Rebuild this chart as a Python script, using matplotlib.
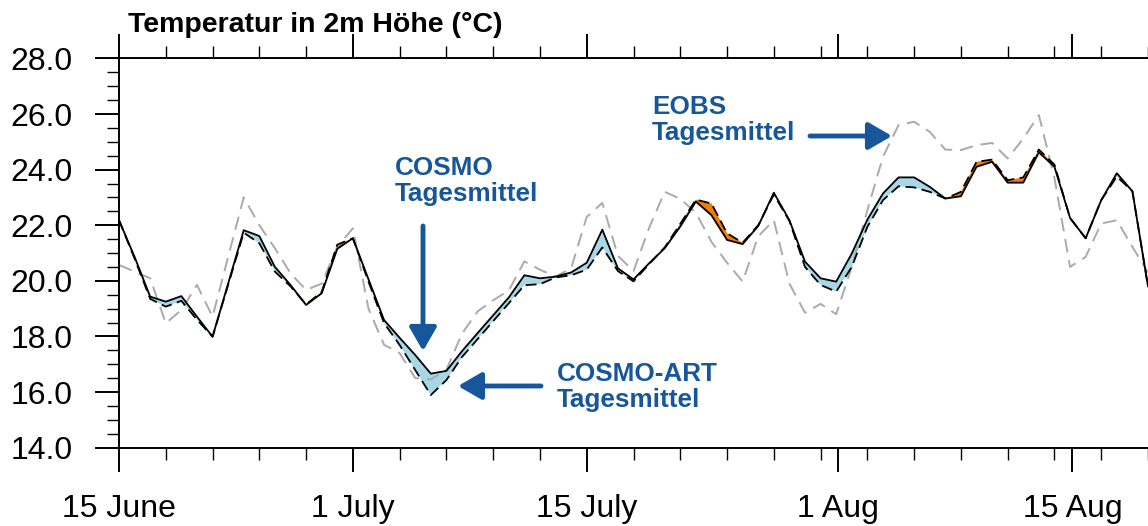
import matplotlib
matplotlib.use("Agg")
import matplotlib.pyplot as plt
import numpy as np

# days since 15 June
days = list(range(67))

cosmo = [22.18, 20.86, 19.43, 19.25, 19.45, 18.71, 17.99, 19.90, 21.82, 21.61,
         20.50, 19.85, 19.13, 19.55, 21.15, 21.53, 20.06, 18.59, 17.95, 17.33,
         16.66, 16.76, 17.47, 18.12, 18.76, 19.40, 20.20, 20.09, 20.15, 20.30,
         20.65, 21.84, 20.45, 20.05, 20.63, 21.17, 21.95, 22.85, 22.36, 21.47,
         21.32, 21.97, 23.17, 22.18, 20.69, 20.09, 19.97, 20.98, 22.20, 23.14,
         23.72, 23.72, 23.38, 22.96, 23.04, 24.10, 24.28, 23.53, 23.53, 24.62,
         24.10, 22.26, 21.53, 22.90, 23.87, 23.22, 19.80]

cosmo_art = [22.18, 20.80, 19.35, 19.07, 19.28, 18.60, 17.99, 19.85, 21.73, 21.35,
             20.33, 19.80, 19.15, 19.60, 21.30, 21.53, 19.97, 18.48, 17.69, 16.79,
             15.89, 16.43, 17.26, 17.90, 18.55, 19.19, 19.84, 19.88, 20.12, 20.20,
             20.40, 21.20, 20.35, 19.98, 20.60, 21.20, 22.05, 22.92, 22.78, 21.71,
             21.37, 22.00, 23.10, 22.15, 20.50, 19.85, 19.61, 20.50, 21.94, 22.90,
             23.40, 23.36, 23.20, 22.96, 23.20, 24.28, 24.36, 23.62, 23.72, 24.72,
             24.18, 22.26, 21.53, 22.90, 23.75, 23.22, 19.80]

eobs = [20.57, 20.33, 20.09, 18.47, 18.95, 19.85, 18.71, 20.86, 23.00, 22.00,
        21.17, 20.27, 19.67, 19.90, 21.22, 21.89, 19.00, 17.70, 17.40, 16.50,
        16.45, 16.80, 18.10, 18.90, 19.30, 19.65, 20.70, 20.40, 20.15, 20.45,
        22.30, 22.80, 20.90, 20.35, 21.90, 23.20, 22.95, 22.45, 21.40, 20.65,
        19.97, 21.60, 22.18, 19.90, 18.85, 19.17, 18.80, 20.50, 22.54, 24.46,
        25.60, 25.72, 25.36, 24.72, 24.70, 24.88, 24.96, 24.40, 25.12, 25.96,
        23.70, 20.50, 20.86, 22.06, 22.18, 21.22, 20.30]

xtick_pos = [0, 15, 30, 46.1, 61.15]
xtick_labels = ["15 June", "1 July", "15 July", "1 Aug", "15 Aug"]
yticks = [14.0, 16.0, 18.0, 20.0, 22.0, 24.0, 26.0, 28.0]

title = "Temperatur in 2m Höhe (°C)"
blue = "#16569a"

plt.rcParams['font.family'] = ['Liberation Sans', 'DejaVu Sans']

W, H = 1148, 526
fig = plt.figure(figsize=(W / 100, H / 100), dpi=100)
left_px, top_px, bot_px = 119, 58.4, 447.6
ax = fig.add_axes([left_px / W, 1 - bot_px / H, (W - left_px) / W, (bot_px - top_px) / H])

x = np.array(days, dtype=float)
c = np.array(cosmo)
a = np.array(cosmo_art)
e = np.array(eobs)

ax.fill_between(x, c, a, where=c >= a, interpolate=True, color="#a8d8e8", lw=0, zorder=1)
ax.fill_between(x, c, a, where=a > c, interpolate=True, color="#f07a0a", lw=0, zorder=1)
ax.plot(x, e, color="#aaaaaa", lw=1.4, dashes=(7, 4), zorder=2)
ax.plot(x, a, color="black", lw=1.3, dashes=(6, 3), zorder=3)
ax.plot(x, c, color="black", lw=1.3, zorder=4)

px_per_day = 15.67
ax.set_xlim(0, (W - left_px) / px_per_day)
ax.set_ylim(14, 28)

ax.set_xticks(xtick_pos)
ax.set_xticklabels(xtick_labels)
ax.set_xticks(np.arange(0, 67, 3), minor=True)
ax.set_yticks(yticks)
ax.set_yticklabels([f"{v:.1f}" for v in yticks])
ax.set_yticks(np.arange(14, 28.01, 0.5), minor=True)

for s in ["left", "top", "bottom"]:
    ax.spines[s].set_linewidth(1.4)
ax.spines["right"].set_visible(False)

ax.tick_params(axis="x", which="both", direction="out", top=True, bottom=True)
ax.tick_params(axis="y", which="both", direction="out", left=True, right=False)
ax.tick_params(which="major", length=17.3, width=1.4, labelsize=23)
ax.tick_params(which="minor", length=8.6, width=1.0)
ax.tick_params(axis="x", which="major", pad=16)
ax.tick_params(axis="y", which="major", pad=16)

fig.text(128 / W, 1 - 31.7 / H, title, fontsize=20.5, fontweight="bold",
         ha="left", va="baseline")

def label(xp, ybase, txt):
    fig.text(xp / W, 1 - ybase / H, txt, fontsize=18.8, fontweight="bold",
             color=blue, ha="left", va="baseline", linespacing=1.12)

label(395, 201, "COSMO\nTagesmittel")
label(557, 407, "COSMO-ART\nTagesmittel")
label(652, 140, "EOBS\nTagesmittel")

def arrow(x0, y0, x1, y1):
    ax.annotate("", xy=(x1 / W, 1 - y1 / H), xytext=(x0 / W, 1 - y0 / H),
                xycoords="figure fraction", textcoords="figure fraction",
                arrowprops=dict(arrowstyle="-|>,head_length=0.95,head_width=0.55",
                                mutation_scale=15, color=blue, lw=3.5,
                                shrinkA=0, shrinkB=0),
                zorder=6)

arrow(423, 226, 423, 351)
arrow(541, 386, 458, 386)
arrow(810, 136, 892, 136)

fig.savefig("out.png", dpi=100)
